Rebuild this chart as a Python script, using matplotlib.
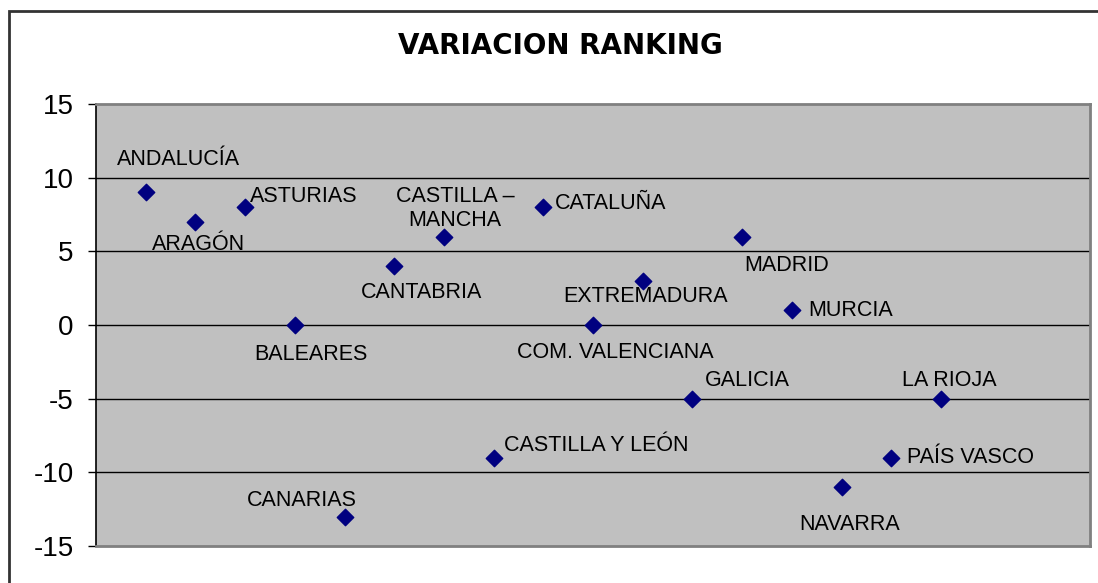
import matplotlib.pyplot as plt
from matplotlib.patches import Rectangle

plt.rcParams["axes.unicode_minus"] = False

# Variación del ranking por comunidad autónoma
comunidades = [
    "ANDALUCÍA", "ARAGÓN", "ASTURIAS", "BALEARES", "CANARIAS", "CANTABRIA",
    "CASTILLA –\nMANCHA", "CASTILLA Y LEÓN", "CATALUÑA", "COM. VALENCIANA",
    "EXTREMADURA", "GALICIA", "MADRID", "MURCIA", "NAVARRA", "PAÍS VASCO", "LA RIOJA"
]
variacion = [9, 7, 8, 0, -13, 4, 6, -9, 8, 0, 3, -5, 6, 1, -11, -9, -5]
posicion = list(range(1, len(comunidades) + 1))

# desplazamiento de cada etiqueta (pixeles) y alineacion horizontal
etiqueta_offset = [
    (33, 33, "center"), (3, -23, "center"), (5, 11, "left"), (16, -30, "center"),
    (-43, 16, "center"), (27, -26, "center"), (11, 28, "center"), (10, 12, "left"),
    (12, 4, "left"), (22, -27, "center"), (3, -16, "center"), (12, 18, "left"),
    (45, -29, "center"), (16, 0, "left"), (8, -37, "center"), (16, 0, "left"),
    (8, 18, "center"),
]

fig = plt.figure(figsize=(10.98, 5.83), dpi=100)
ax = fig.add_axes([96 / 1098, 1 - 546 / 583, (1090 - 96) / 1098, (546 - 104) / 583])

# marco exterior del grafico
fig.patches.append(Rectangle((9 / 1098, -0.5), 2, 0.5 + 1 - 11 / 583, transform=fig.transFigure,
                             fill=False, edgecolor="#333333", linewidth=2.0))

ax.set_facecolor("#C0C0C0")
ax.set_xlim(0, 20)
ax.set_ylim(-15, 15)
ax.set_yticks([-15, -10, -5, 0, 5, 10, 15])
ax.set_xticks([])
ax.tick_params(axis="y", direction="out", length=6, width=1, labelsize=20, pad=10)
for t in ax.get_yticklabels():
    t.set_fontfamily("Liberation Sans")

for y in [-10, -5, 0, 5, 10]:
    ax.axhline(y, color="black", linewidth=1, zorder=1)

for s in ["top", "right", "bottom"]:
    ax.spines[s].set_color("#808080")
    ax.spines[s].set_linewidth(2)
ax.spines["left"].set_color("black")
ax.spines["left"].set_linewidth(1.2)

ax.scatter(posicion, variacion, marker="D", s=70, color="#000080", zorder=3)

for x, y, nombre, (dx, dy, ha) in zip(posicion, variacion, comunidades, etiqueta_offset):
    ax.annotate(nombre, (x, y), xytext=(dx, dy), textcoords="offset pixels",
                ha=ha, va="center", fontsize=15.5, family="Liberation Sans",
                multialignment="center", linespacing=1.2, zorder=4)

fig.text(560 / 1098, 1 - 46 / 583, "VARIACION RANKING", ha="center", va="center",
         fontsize=20, fontweight="bold", family="DejaVu Sans")

fig.savefig("out.png", dpi=100)
